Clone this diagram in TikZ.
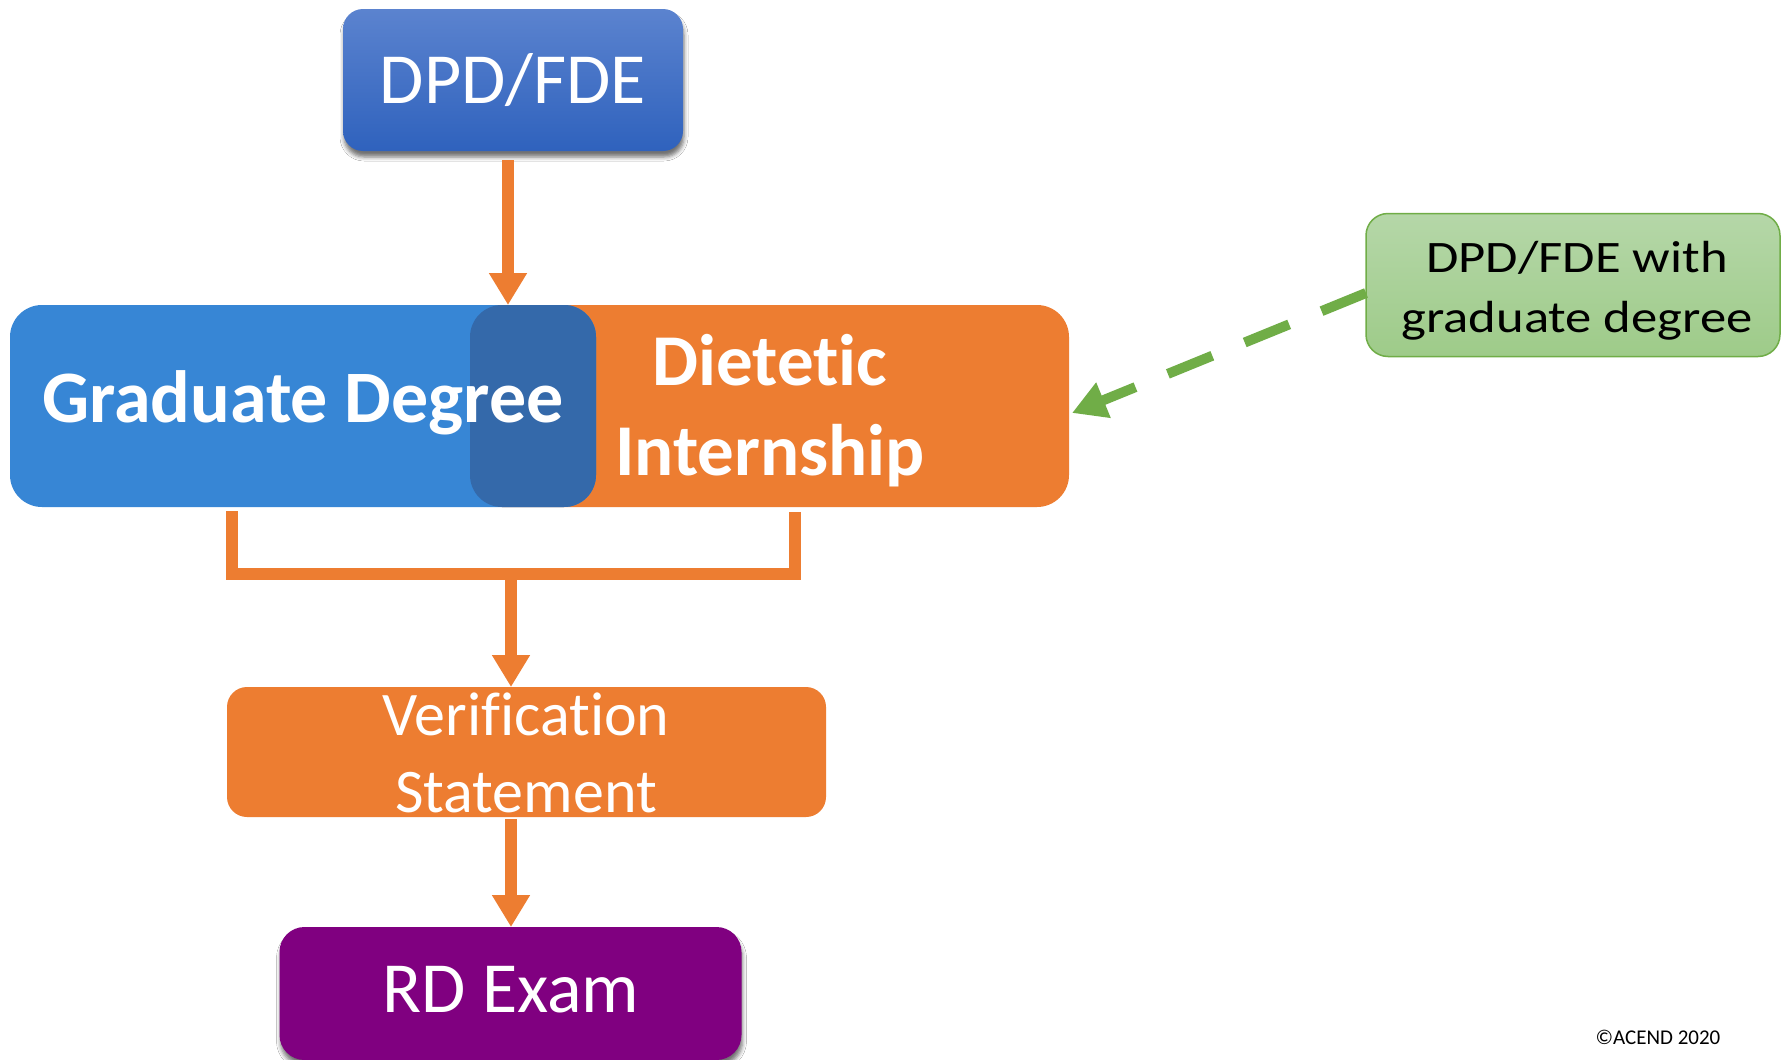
\documentclass[tikz,border=0pt]{standalone}
\usepackage{fontspec}
\usepackage{graphicx}
\setmainfont{Carlito}[Ligatures=NoCommon]
\usetikzlibrary{arrows.meta,shadows.blur}
\definecolor{orng}{HTML}{ED7D31}
\definecolor{gblue}{HTML}{3786D5}
\definecolor{dblue}{HTML}{3469AA}
\definecolor{dtop}{HTML}{5B83CF}
\definecolor{dbot}{HTML}{2F62BD}
\definecolor{gtop}{HTML}{B5D7A8}
\definecolor{gbot}{HTML}{9ECB89}
\definecolor{gline}{HTML}{70AD47}
\definecolor{purp}{HTML}{800080}
\begin{document}
\begin{tikzpicture}[x=1pt,y=-1pt,
  box/.style={rectangle, inner sep=0pt, outer sep=0pt},
  shad/.style={blur shadow={shadow xshift=1pt, shadow yshift=-6pt, shadow blur radius=4pt, shadow opacity=55}},
  oarrow/.style={draw=orng, line width=12pt, -{Triangle[width=36pt,length=32pt]}},
  garrow/.style={draw=gline, line width=10pt, dash pattern=on 48pt off 35pt, -{Triangle[width=36pt,length=34pt]}},
  txt/.style={anchor=base, inner sep=0pt, outer sep=0pt, text=white},
  big/.style={font=\fontsize{72pt}{86pt}\selectfont},
  bigb/.style={font=\fontsize{74pt}{88pt}\selectfont\bfseries},
  mid/.style={font=\fontsize{62pt}{74pt}\selectfont},
  small/.style={font=\fontsize{45pt}{54pt}\selectfont}]
\fill[white] (0,0) rectangle (1781,1060);
\useasboundingbox (0,0) rectangle (1781,1060);

% boxes
\node[box, minimum width=340pt, minimum height=142pt, rounded corners=20pt, top color=dtop, bottom color=dbot, shad] (dpd) at (513,80) {};
\node[box, minimum width=599pt, minimum height=202pt, rounded corners=32pt, fill=orng] (intern) at (769.5,406) {};
\node[box, minimum width=586pt, minimum height=202pt, rounded corners=32pt, fill=gblue] (grad) at (303,406) {};
\begin{scope}
  \clip[rounded corners=32pt] (intern.north west) rectangle (intern.south east);
  \fill[dblue, rounded corners=32pt] (grad.north west) rectangle (grad.south east);
\end{scope}
\node[box, minimum width=599pt, minimum height=130pt, rounded corners=20pt, fill=orng] (verif) at (526.5,752) {};
\node[box, minimum width=462pt, minimum height=133pt, rounded corners=25pt, fill=purp, shad] (rd) at (510.5,993.5) {};
\node[box, minimum width=414pt, minimum height=143pt, rounded corners=22pt, top color=gtop, bottom color=gbot, draw=gline, line width=1.5pt] (green) at (1573,285) {};

% texts
\node[txt, big] (dpdT) at (513,103) {DPD/FDE};
\node[txt, bigb] (gradT) at (303,422) {Graduate Degree};
\node[txt, font=\fontsize{73pt}{88pt}\selectfont\bfseries] (intT1) at (770,385) {Dietetic};
\node[txt, font=\fontsize{73pt}{88pt}\selectfont\bfseries] (intT2) at (770,475) {Internship};
\node[txt, mid] (verT1) at (526,735) {Verification};
\node[txt, mid] (verT2) at (526,812) {Statement};
\node[txt, big] (rdT) at (511,1012) {RD Exam};
\node[txt, small, text=black] (grT1) at (1577,272) {\scalebox{1.17}[1]{DPD/FDE with}};
\node[txt, small, text=black] (grT2) at (1577,332) {\scalebox{1.17}[1]{graduate degree}};
\node[txt, text=black, font=\fontsize{21pt}{25pt}\selectfont] (copy) at (1658,1044) {©ACEND 2020};

% connectors
\coordinate (x1) at (508,0);
\coordinate (bl) at (232,574);
\coordinate (br) at (795,574);
\coordinate (bm) at (511,574);
\draw[oarrow, shorten <=9pt] (dpd.south -| x1) -- (x1 |- grad.north);
\draw[orng, line width=12pt, shorten <=4pt, shorten >=5pt] (grad.south -| bl) -- (bl) -- (br) -- (intern.south -| br);
\draw[oarrow] (bm) -- (verif.north -| bm);
\draw[oarrow, shorten <=2pt] (verif.south -| bm) -- (rd.north -| bm);
\draw[garrow] ([yshift=-8pt]green.west) -- ([xshift=3pt,yshift=-7pt]intern.east);
\end{tikzpicture}
\end{document}
